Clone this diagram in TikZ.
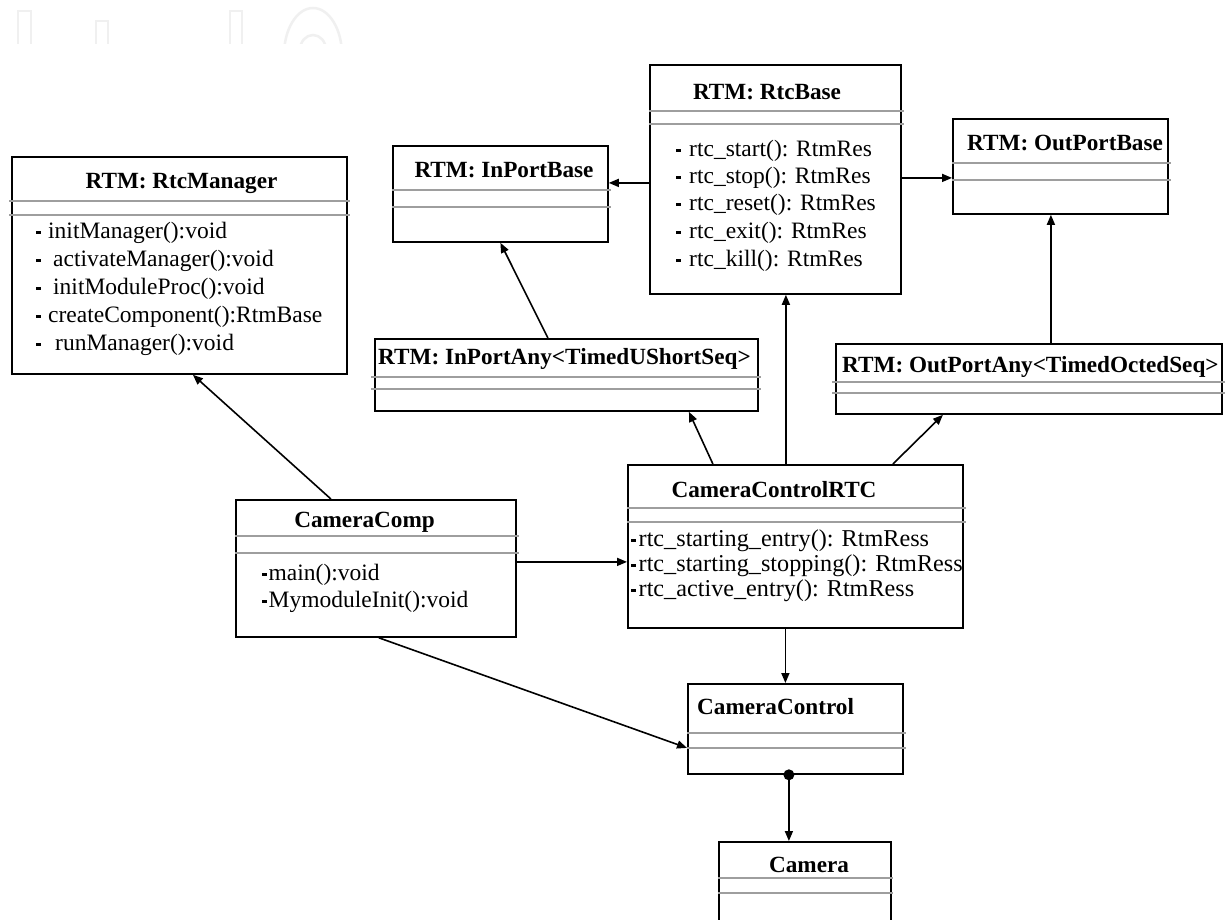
\documentclass[tikz,border=0pt]{standalone}
\usepackage{fontspec}
\setmainfont{Liberation Serif}
\usetikzlibrary{arrows.meta,calc}
\newcommand\bu{\rule[4.5pt]{4.5pt}{3.5pt}}
\tikzset{
 box/.style={draw=black, line width=1.8pt, rectangle, inner sep=0pt, anchor=north west},
 sep/.style={draw=black!38, line width=1.4pt},
 ttl/.style={font=\fontsize{23.2}{26}\selectfont\bfseries, inner sep=0pt},
 meth/.style={font=\fontsize{23.5}{26}\selectfont, inner sep=0pt, anchor=west, text height=16pt, text depth=5pt},
 methb/.style={meth, font=\fontsize{24.2}{26}\selectfont},
 conn/.style={draw=black, line width=1.6pt},
 arr/.style={conn, -{Triangle[length=10pt,width=8pt]}},
 wm/.style={draw=black!6, line width=2.5pt}
}
\begin{document}
\begin{tikzpicture}[x=1pt,y=-1pt]
\useasboundingbox[fill=white] (0,0) rectangle (1225,919);
\clip (0,0) rectangle (1225,919);

% faint watermark
\begin{scope}
\clip (0,0) rectangle (1225,43);
\draw[wm] (18,45) -- (18,11) -- (31,11) -- (31,45);
\draw[wm] (96,45) -- (96,21) -- (108,21) -- (108,45);
\draw[wm] (230,45) -- (230,11) -- (242,11) -- (242,45);
\draw[wm] (313,55) ellipse [x radius=29, y radius=47];
\draw[wm] (313,50) ellipse [x radius=13, y radius=15];
\end{scope}

% RTM: RtcManager
\node[box, minimum width=335pt, minimum height=217pt] (mgr) at (11,156) {};
\node[ttl] (mgr-t) at (181.5,183) {RTM: RtcManager};
\draw[sep] (9,201) -- (350,201);
\draw[sep] (9,215) -- (350,215);
\node[meth] (mgr-m1) at (36,233) {\bu\hspace{7.5pt}initManager():void};
\node[meth] (mgr-m2) at (36,261) {\bu\hspace{12.5pt}activateManager():void};
\node[meth] (mgr-m3) at (36,289) {\bu\hspace{12.5pt}initModuleProc():void};
\node[meth] (mgr-m4) at (36,317) {\bu\hspace{7.5pt}createComponent():RtmBase};
\node[meth] (mgr-m5) at (36,345) {\bu\hspace{14.5pt}runManager():void};

% RTM: InPortBase
\node[box, minimum width=215pt, minimum height=96pt] (inbase) at (392,145) {};
\node[ttl] (inbase-t) at (504,170) {RTM: InPortBase};
\draw[sep] (392,190) -- (611,190);
\draw[sep] (392,207) -- (611,207);

% RTM: RtcBase
\node[box, minimum width=251pt, minimum height=229pt] (rtcbase) at (649,64) {};
\node[ttl] (rtcbase-t) at (767,92) {RTM: RtcBase};
\draw[sep] (649,111) -- (904,111);
\draw[sep] (649,124) -- (904,124);
\node[meth] (rtcbase-m1) at (676,151) {\bu\hspace{8.5pt}rtc\_start(): RtmRes};
\node[meth] (rtcbase-m2) at (676,178) {\bu\hspace{8.5pt}rtc\_stop(): RtmRes};
\node[meth] (rtcbase-m3) at (676,205) {\bu\hspace{8.5pt}rtc\_reset(): RtmRes};
\node[meth] (rtcbase-m4) at (676,233) {\bu\hspace{8.5pt}rtc\_exit(): RtmRes};
\node[meth] (rtcbase-m5) at (676,261) {\bu\hspace{8.5pt}rtc\_kill(): RtmRes};

% RTM: OutPortBase
\node[box, minimum width=215pt, minimum height=95pt] (outbase) at (952,118) {};
\node[ttl, anchor=west] (outbase-t) at (967,143) {RTM: OutPortBase};
\draw[sep] (952,163) -- (1171,163);
\draw[sep] (952,180) -- (1171,180);

% RTM: InPortAny
\node[box, minimum width=383pt, minimum height=72pt] (inany) at (374,338) {};
\node[ttl, anchor=west] (inany-t) at (378,359) {RTM: InPortAny<TimedUShortSeq>};
\draw[sep] (371,377) -- (761,377);
\draw[sep] (371,389) -- (761,389);

% RTM: OutPortAny
\node[box, minimum width=386pt, minimum height=70pt] (outany) at (835,343) {};
\node[ttl, anchor=west] (outany-t) at (842,367) {RTM: OutPortAny<TimedOctedSeq>};
\draw[sep] (832,382) -- (1225,382);
\draw[sep] (832,393) -- (1225,393);

% CameraControlRTC
\node[box, minimum width=335pt, minimum height=163pt] (ccrtc) at (627,464) {};
\node[ttl] (ccrtc-t) at (774,490) {CameraControlRTC};
\draw[sep] (627,508) -- (966,508);
\draw[sep] (627,522) -- (966,522);
\node[methb] (ccrtc-m1) at (631,541) {\bu\hspace{3pt}rtc\_starting\_entry(): RtmRess};
\node[methb] (ccrtc-m2) at (631,566) {\bu\hspace{3pt}rtc\_starting\_stopping(): RtmRess};
\node[methb] (ccrtc-m3) at (631,591) {\bu\hspace{3pt}rtc\_active\_entry(): RtmRess};

% CameraComp
\node[box, minimum width=280pt, minimum height=137pt] (camcomp) at (235,499) {};
\node[ttl] (camcomp-t) at (364.5,522) {CameraComp};
\draw[sep] (235,536) -- (519,536);
\draw[sep] (235,553) -- (519,553);
\node[meth] (camcomp-m1) at (262,575) {\bu\hspace{2pt}main():void};
\node[meth] (camcomp-m2) at (262,602) {\bu\hspace{2pt}MymoduleInit():void};

% CameraControl
\node[box, minimum width=215pt, minimum height=90pt] (cctrl) at (687,683) {};
\node[ttl, anchor=west] (cctrl-t) at (697,707) {CameraControl};
\draw[sep] (687,733) -- (906,733);
\draw[sep] (687,748) -- (906,748);

% Camera
\node[box, minimum width=172pt, minimum height=100pt] (camera) at (718,841) {};
\node[ttl] (camera-t) at (809,865) {Camera};
\draw[sep] (718,878) -- (893,878);
\draw[sep] (718,893) -- (893,893);

% connectors
\draw[arr] ([xshift=-45pt]camcomp.north) -- ([xshift=13.5pt]mgr.south);
\draw[arr] ([xshift=-18.5pt]inany.north) -- (inbase.south);
\coordinate (a3) at ([yshift=-3.5pt]rtcbase.west);
\draw[arr] (a3) -- (a3 -| inbase.east);
\coordinate (a4) at ([yshift=1.5pt]rtcbase.east);
\draw[arr] (a4) -- (a4 -| outbase.west);
\coordinate (a5) at ([xshift=22pt]outany.north);
\draw[arr] (a5) -- (a5 |- outbase.south);
\draw[arr] ([xshift=-82.5pt]ccrtc.north) -- ([xshift=122.5pt]inany.south);
\coordinate (a7) at ([xshift=-9.5pt]ccrtc.north);
\draw[arr] (a7) -- (a7 |- rtcbase.south);
\draw[arr] ([xshift=97.5pt]ccrtc.north) -- ([xshift=-86pt]outany.south);
\coordinate (a9) at ([yshift=6.5pt]camcomp.east);
\draw[arr] (a9) -- (a9 -| ccrtc.west);
\coordinate (a10) at ([xshift=-10pt]ccrtc.south);
\draw[arr] (a10) -- (a10 |- cctrl.north);
\draw[arr] ([xshift=3pt]camcomp.south) -- ([yshift=-19pt]cctrl.west);
\coordinate (a12) at ([xshift=-6.5pt]cctrl.south);
\fill (a12) circle (5.5pt);
\draw[arr] (a12) -- (a12 |- camera.north);
\end{tikzpicture}
\end{document}
